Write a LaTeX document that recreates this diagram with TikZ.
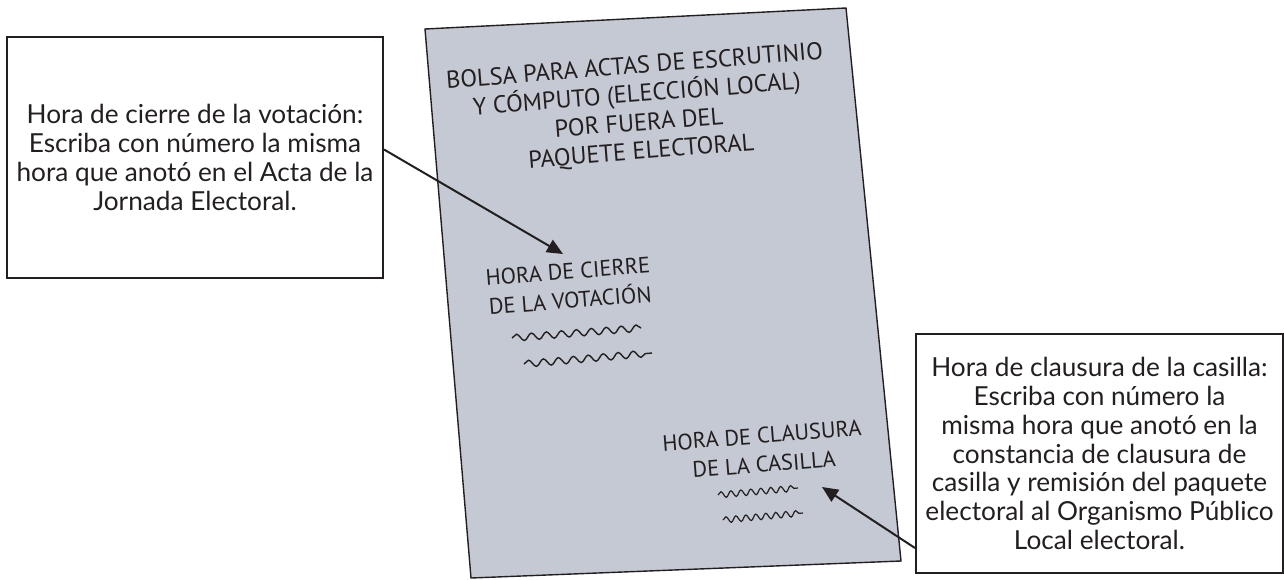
\documentclass[tikz,border=0pt]{standalone}
\usepackage{fontspec}
\setmainfont{Lato}
\newfontfamily\bagfont{PT Sans}
\newfontfamily\boxfont{Lato}
\usetikzlibrary{arrows.meta,decorations.pathmorphing}
\definecolor{bagfill}{RGB}{197,201,211}
\definecolor{ink}{RGB}{35,31,32}
\tikzset{
  infobox/.style={draw=ink, line width=1pt, fill=white, inner sep=0pt, align=center,
    font=\boxfont\fontsize{13.1}{14.4}\selectfont, text=ink},
  bagtext/.style={anchor=center, rotate=4.5, inner sep=0pt, text=ink, align=center,
    font=\bagfont\fontsize{11.2}{14.5}\selectfont},
  titletext/.style={bagtext, font=\bagfont\fontsize{12.2}{14.3}\selectfont},
  pointer/.style={draw=ink, line width=1pt, -{Triangle[length=8pt,width=7pt]}},
  squiggle/.style={draw=ink, line width=0.7pt, decorate,
    decoration={snake, segment length=7.5pt, amplitude=1.7pt}},
  squigglesmall/.style={draw=ink, line width=0.6pt, decorate,
    decoration={snake, segment length=5pt, amplitude=1.5pt}}
}
\begin{document}
\begin{tikzpicture}[x=0.5pt, y=-0.5pt]
\useasboundingbox (0,0) rectangle (1284,579);
% bag
\draw[draw=ink, line width=0.7pt, fill=bagfill] (425,29) -- (846,8) -- (901,561) -- (471,578) -- cycle;
% title
\node[titletext] (title) at (638,110) {BOLSA PARA ACTAS DE ESCRUTINIO\\Y CÓMPUTO (ELECCIÓN LOCAL)\\POR FUERA DEL\\PAQUETE ELECTORAL};
% field 1
\node[bagtext] (cierre) at (569,286) {HORA DE CIERRE\\DE LA VOTACIÓN};
\draw[squiggle] (512,338) -- (641,328);
\draw[squiggle] (524,364) -- (652,353);
% field 2
\node[bagtext] (clausura) at (763,450) {HORA DE CLAUSURA\\DE LA CASILLA};
\draw[squigglesmall] (718,495) -- (798,488);
\draw[squigglesmall] (723,520) -- (803,513);
% boxes
\node[infobox, minimum width=188pt, minimum height=120.5pt] (lbox) at (195,157.5)
  {Hora de cierre de la votación:\\Escriba con número la misma\\hora que anotó en el Acta de la\\Jornada Electoral.};
\node[infobox, minimum width=183.5pt, minimum height=119.5pt] (rbox) at (1099.5,453.5)
  {Hora de clausura de la casilla:\\Escriba con número la\\misma hora que anotó en la\\constancia de clausura de\\casilla y remisión del paquete\\electoral al Organismo Público\\Local electoral.};
% arrows
\coordinate (tip1) at (563,254);
\coordinate (tip2) at (822,487);
\draw[pointer] ([yshift=4pt]lbox.east) -- (tip1);
\draw[pointer] ([yshift=13pt]rbox.south west) -- (tip2);
\end{tikzpicture}
\end{document}
